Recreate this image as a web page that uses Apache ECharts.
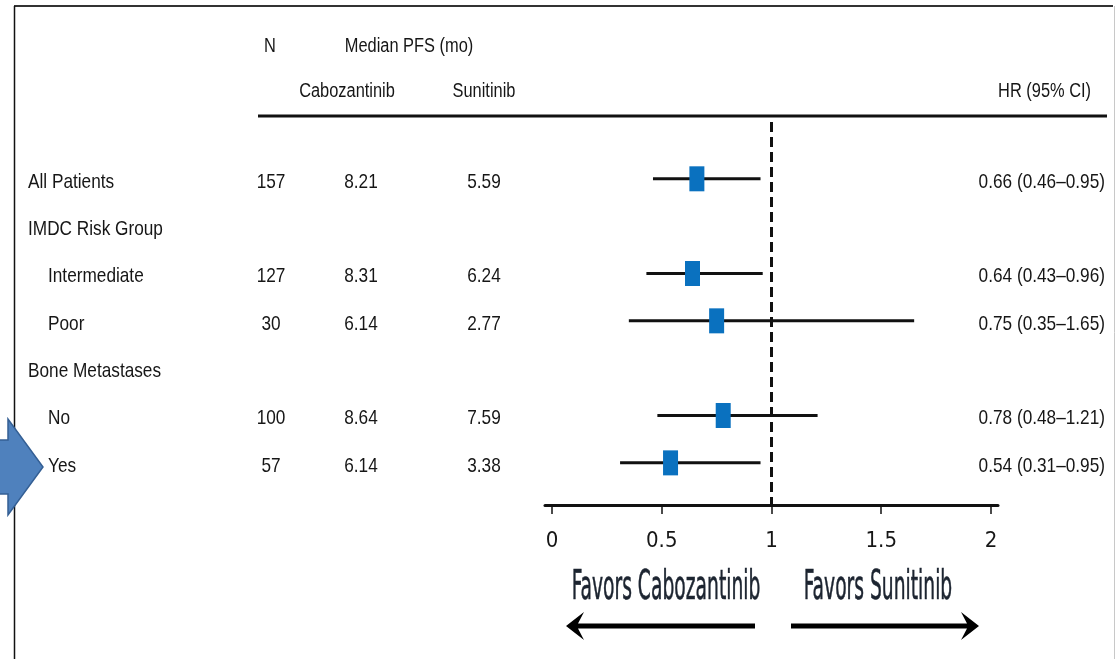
<!DOCTYPE html>
<html>
<head>
<meta charset="utf-8">
<title>Median PFS forest plot</title>
<script src="https://cdn.jsdelivr.net/npm/echarts@6/dist/echarts.min.js"></script>
<style>
  html, body { margin: 0; padding: 0; background: #ffffff; }
  #chart { width: 1117px; height: 659px; }
</style>
</head>
<body>
<div id="chart"></div>
<script>
// Subgroup rows (top to bottom)
const rowLabels = ['All Patients', 'IMDC Risk Group', 'Intermediate', 'Poor', 'Bone Metastases', 'No', 'Yes'];
const rowIndent = [0, 0, 1, 1, 0, 1, 1];
const nPatients = [157, null, 127, 30, null, 100, 57];
const caboPFS = [8.21, null, 8.31, 6.14, null, 8.64, 6.14];
const suniPFS = [5.59, null, 6.24, 2.77, null, 7.59, 3.38];
const hazardRatio = [0.66, null, 0.64, 0.75, null, 0.78, 0.54];
const ciLower = [0.46, null, 0.43, 0.35, null, 0.48, 0.31];
const ciUpper = [0.95, null, 0.96, 1.65, null, 1.21, 0.95];
const axisTicks = [0, 0.5, 1, 1.5, 2];

// Narrow sans look: regular Liberation Sans squeezed horizontally
const FONT = "'Liberation Sans', Arial, sans-serif";
const NARROW = 0.82;
const COND_FONT = "'DejaVu Sans Condensed', 'Liberation Sans', sans-serif";
const INK = '#161616';
const BOX = '#0a71bf';

function fmtCI(i) {
  return hazardRatio[i].toFixed(2) + ' (' + ciLower[i].toFixed(2) + '\u2013' + ciUpper[i].toFixed(2) + ')';
}

function narrowText(x, y, text, align, size) {
  return {
    type: 'text', x: x, y: y, scaleX: NARROW,
    style: { x: 0, y: 0, text: text, align: align, verticalAlign: 'middle',
             fontFamily: FONT, fontSize: size, fill: INK }
  };
}

function renderRow(params, api) {
  const i = params.dataIndex;
  const y = api.coord([0, i])[1];
  const ty = y + 3;
  const children = [];
  children.push(narrowText(rowIndent[i] ? 48 : 28, ty, rowLabels[i], 'left', 21));
  if (nPatients[i] != null) {
    children.push(narrowText(271, ty, String(nPatients[i]), 'center', 21));
    children.push(narrowText(361, ty, caboPFS[i].toFixed(2), 'center', 21));
    children.push(narrowText(484, ty, suniPFS[i].toFixed(2), 'center', 21));
    children.push(narrowText(1105, ty, fmtCI(i), 'right', 21));
  }
  if (hazardRatio[i] != null) {
    const lo = api.coord([ciLower[i], i]);
    const hi = api.coord([ciUpper[i], i]);
    const c = api.coord([hazardRatio[i], i]);
    children.push({
      type: 'line',
      shape: { x1: lo[0], y1: lo[1], x2: hi[0], y2: hi[1] },
      style: { stroke: '#111', lineWidth: 3 }
    });
    children.push({
      type: 'rect',
      shape: { x: c[0] - 7.5, y: c[1] - 12.5, width: 15, height: 25 },
      style: { fill: BOX }
    });
  }
  return { type: 'group', children: children };
}

function bigLabel(x, y, text) {
  return {
    type: 'text', x: x, y: y, scaleX: 0.52,
    style: { x: 0, y: 0, text: text, align: 'center', verticalAlign: 'middle',
             fontFamily: COND_FONT, fontSize: 40, fill: '#1c2430',
             stroke: '#1c2430', lineWidth: 0.6 }
  };
}

const chart = echarts.init(document.getElementById('chart'), null, { renderer: 'canvas' });

chart.setOption({
  backgroundColor: '#ffffff',
  animation: false,
  grid: { left: 545, right: 119, top: 122, bottom: 154, containLabel: false, outerBoundsMode: 'none' },
  xAxis: {
    type: 'value',
    min: -0.032,
    max: 2.032,
    axisLine: { show: true, onZero: false, lineStyle: { color: '#111', width: 3 } },
    axisTick: { show: true, customValues: axisTicks, length: 9, lineStyle: { color: '#111', width: 1.5 } },
    axisLabel: { show: true, customValues: axisTicks, margin: 25, fontFamily: COND_FONT, fontSize: 22, color: INK },
    splitLine: { show: false }
  },
  yAxis: {
    type: 'value',
    inverse: true,
    min: -1.2,
    max: 6.89,
    show: false
  },
  series: [{
    type: 'custom',
    renderItem: renderRow,
    data: rowLabels.map((_, i) => [hazardRatio[i] == null ? 1 : hazardRatio[i], i]),
    encode: { x: 0, y: 1 },
    silent: true,
    clip: false,
    markLine: {
      silent: true,
      symbol: 'none',
      label: { show: false },
      lineStyle: { color: '#111', width: 3, type: [10, 5] },
      data: [[{ coord: [1, -1.2] }, { coord: [1, 6.89] }]]
    }
  }],
  graphic: [
    // frame
    { type: 'line', shape: { x1: 14, y1: 6, x2: 1113, y2: 6 }, style: { stroke: '#333', lineWidth: 2 } },
    { type: 'line', shape: { x1: 14.5, y1: 6, x2: 14.5, y2: 659 }, style: { stroke: '#111', lineWidth: 1.5 } },
    { type: 'line', shape: { x1: 1114.5, y1: 6, x2: 1114.5, y2: 659 }, style: { stroke: '#c8c8c8', lineWidth: 1 } },
    // column headers
    narrowText(270, 46, 'N', 'center', 20),
    narrowText(409, 46, 'Median PFS (mo)', 'center', 20),
    narrowText(347, 91, 'Cabozantinib', 'center', 20),
    narrowText(484, 91, 'Sunitinib', 'center', 20),
    narrowText(1091, 91, 'HR (95% CI)', 'right', 20),
    { type: 'line', shape: { x1: 258, y1: 116, x2: 1107, y2: 116 }, style: { stroke: '#111', lineWidth: 3 } },
    // pointer arrow at the left edge
    {
      type: 'polygon',
      shape: { points: [[-3, 440], [8, 440], [8, 419], [43, 467], [8, 515], [8, 494], [-3, 494]] },
      style: { fill: '#4f81bd', stroke: '#345f94', lineWidth: 1.5 }
    },
    // direction labels
    bigLabel(666, 589, 'Favors Cabozantinib'),
    bigLabel(878, 589, 'Favors Sunitinib'),
    {
      type: 'polygon',
      shape: { points: [[566, 626], [584, 612], [578, 623.5], [755, 623.5], [755, 628.5], [578, 628.5], [584, 640]] },
      style: { fill: '#000' }
    },
    {
      type: 'polygon',
      shape: { points: [[979, 626], [961, 612], [967, 623.5], [791, 623.5], [791, 628.5], [967, 628.5], [961, 640]] },
      style: { fill: '#000' }
    }
  ]
});
</script>
</body>
</html>
